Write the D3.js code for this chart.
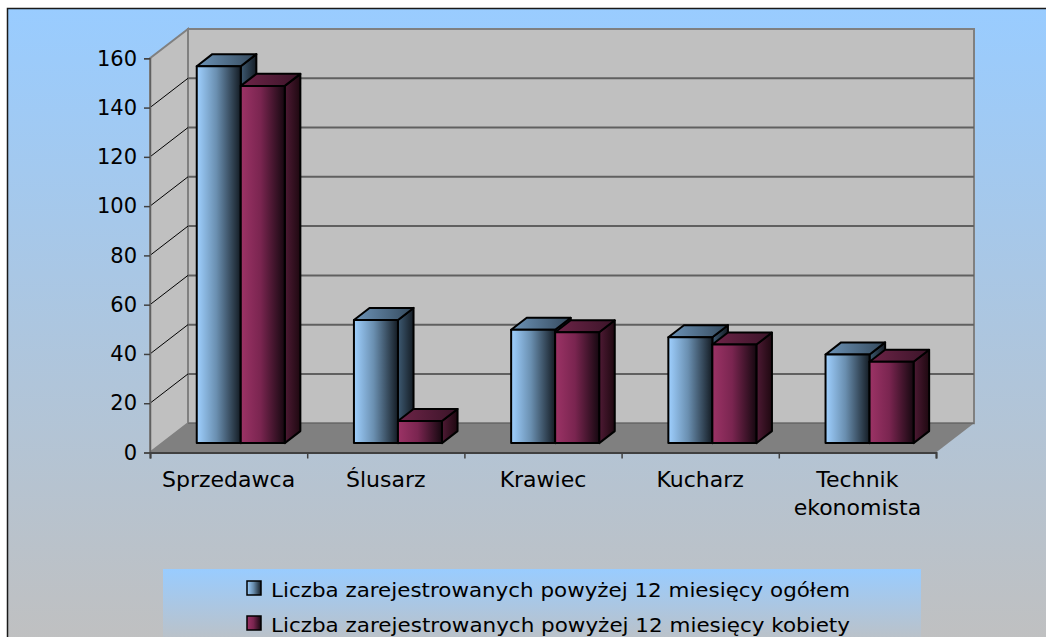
<!DOCTYPE html>
<html>
<head>
<meta charset="utf-8">
<script src="https://cdn.jsdelivr.net/npm/d3@7"></script>
<style>
  html, body { margin: 0; padding: 0; background: #fff; }
  svg { display: block; }
  text { font-family: "DejaVu Sans", Verdana, sans-serif; fill: #000; }
</style>
</head>
<body>
<svg id="chart" width="1046" height="637"></svg>
<script>
"use strict";

// data
var categories = ["Sprzedawca", "Ślusarz", "Krawiec", "Kucharz", "Technik ekonomista"];
var seriesNames = [
    "Liczba zarejestrowanych powyżej 12 miesięcy ogółem",
    "Liczba zarejestrowanych powyżej 12 miesięcy kobiety"
];
var totalValues = [153, 50, 46, 43, 36];
var womenValues = [145, 9, 45, 40, 33];
var yTicks = [0, 20, 40, 60, 80, 100, 120, 140, 160];

(function(){
    var svg = d3.select("#chart");
    var defs = svg.append("defs");

    var left = 150, right = 936, bottom = 452.5, top = 58.3;
    var depthX = 38, depthY = -29.3;          // oblique offset of the back wall
    var barFront = 0.32, barBack = 0.73;      // bar position inside the depth

    var y = d3.scaleLinear().domain([0, 160]).range([bottom, top]);
    var x0 = d3.scaleBand().domain(categories).range([left, right])
        .paddingInner(0.44).paddingOuter(0.22);
    var x1 = d3.scaleBand().domain([0, 1]).range([0, x0.bandwidth()]);

    function grad(id, stops, x2, y2){
        var g = defs.append("linearGradient").attr("id", id)
            .attr("x1", 0).attr("y1", 0).attr("x2", x2).attr("y2", y2);
        stops.forEach(function(s){
            g.append("stop").attr("offset", s[0]).attr("stop-color", s[1]);
        });
    }
    grad("bg", [[0, "#99ccff"], [1, "#c0c0c0"]], 0, 1);
    grad("blueFront", [[0, "#9fd0ff"], [0.45, "#6a8fb0"], [1, "#141c24"]], 1, 0);
    grad("blueTop", [[0, "#6d94b8"], [1, "#34495c"]], 1, 0);
    grad("blueSide", [[0, "#3e5a72"], [1, "#141c24"]], 1, 0);
    grad("redFront", [[0, "#9c3366"], [0.45, "#7a2550"], [1, "#160810"]], 1, 0);
    grad("redTop", [[0, "#6e2448"], [1, "#3a1428"]], 1, 0);
    grad("redSide", [[0, "#4e1a34"], [1, "#1e0810"]], 1, 0);

    var fills = [
        {front: "url(#blueFront)", top: "url(#blueTop)", side: "url(#blueSide)"},
        {front: "url(#redFront)", top: "url(#redTop)", side: "url(#redSide)"}
    ];

    // chart area background and frame
    svg.append("rect")
        .attr("x", 7.5).attr("y", 8.5).attr("width", 1100).attr("height", 640)
        .attr("fill", "url(#bg)")
        .attr("stroke", "#1a1a1a").attr("stroke-width", 1.5);

    function pts(a){ return a.map(function(p){ return p[0] + "," + p[1]; }).join(" "); }

    // floor
    svg.append("polygon")
        .attr("points", pts([[left, bottom], [right, bottom], [right + depthX, bottom + depthY], [left + depthX, bottom + depthY]]))
        .attr("fill", "#808080");

    // back wall
    svg.append("polygon")
        .attr("points", pts([[left + depthX, bottom + depthY], [right + depthX, bottom + depthY], [right + depthX, top + depthY], [left + depthX, top + depthY]]))
        .attr("fill", "#c0c0c0").attr("stroke", "#808080").attr("stroke-width", 2);

    // side wall
    svg.append("polygon")
        .attr("points", pts([[left, bottom], [left + depthX, bottom + depthY], [left + depthX, top + depthY], [left, top]]))
        .attr("fill", "#c0c0c0").attr("stroke", "#808080").attr("stroke-width", 2);

    // gridlines
    var inner = yTicks.filter(function(v){ return v > 0 && v < 160; });
    svg.append("g").selectAll("line").data(inner).enter().append("line")
        .attr("x1", left + depthX).attr("x2", right + depthX)
        .attr("y1", function(d){ return y(d) + depthY; })
        .attr("y2", function(d){ return y(d) + depthY; })
        .attr("stroke", "#606060").attr("stroke-width", 2);
    svg.append("g").selectAll("line").data(inner).enter().append("line")
        .attr("x1", left).attr("x2", left + depthX)
        .attr("y1", function(d){ return y(d); })
        .attr("y2", function(d){ return y(d) + depthY; })
        .attr("stroke", "#000").attr("stroke-width", 1);

    // front edge of the floor
    svg.append("line")
        .attr("x1", left + depthX).attr("y1", bottom + depthY)
        .attr("x2", right + depthX).attr("y2", bottom + depthY)
        .attr("stroke", "#606060").attr("stroke-width", 1);

    // bars
    var fx = barFront * depthX, fy = barFront * depthY;
    var bx = (barBack - barFront) * depthX, by = (barBack - barFront) * depthY;
    var rows = [];
    categories.forEach(function(c, i){
        [totalValues[i], womenValues[i]].forEach(function(v, s){
            rows.push({cat: c, s: s, v: v});
        });
    });
    var bars = svg.append("g").selectAll("g").data(rows).enter().append("g")
        .attr("stroke", "#000").attr("stroke-width", 2).attr("stroke-linejoin", "round");
    bars.each(function(d){
        var g = d3.select(this);
        var xl = x0(d.cat) + x1(d.s) + fx, w = x1.bandwidth();
        var yb = y(0) + fy, yt = y(d.v) + fy;
        g.append("polygon")
            .attr("points", pts([[xl + w, yt], [xl + w + bx, yt + by], [xl + w + bx, yb + by], [xl + w, yb]]))
            .attr("fill", fills[d.s].side);
        g.append("polygon")
            .attr("points", pts([[xl, yt], [xl + w, yt], [xl + w + bx, yt + by], [xl + bx, yt + by]]))
            .attr("fill", fills[d.s].top);
        g.append("rect")
            .attr("x", xl).attr("y", yt).attr("width", w).attr("height", yb - yt)
            .attr("fill", fills[d.s].front);
    });

    // y axis
    var yAxis = svg.append("g")
        .attr("transform", "translate(" + left + ",0)")
        .call(d3.axisLeft(y).tickValues(yTicks).tickSize(6).tickPadding(7));
    yAxis.select(".domain").attr("stroke", "#606060").attr("stroke-width", 1.5);
    yAxis.selectAll(".tick line").attr("stroke", "#404040").attr("stroke-width", 1.5);
    yAxis.selectAll("text").style("font-size", "21px").attr("fill", "#000")
        .style("font-family", "DejaVu Sans");

    // x axis
    var xEdge = d3.scaleLinear().domain([0, categories.length]).range([left, right]);
    var xAxis = svg.append("g")
        .attr("transform", "translate(0," + bottom + ")")
        .call(d3.axisBottom(xEdge).tickValues(d3.range(categories.length + 1))
            .tickSize(6).tickFormat(""));
    xAxis.select(".domain").attr("stroke", "#404040").attr("stroke-width", 2);
    xAxis.selectAll(".tick line").attr("stroke", "#404040").attr("stroke-width", 1.5);

    var labels = svg.append("g").selectAll("text").data(categories).enter().append("text")
        .attr("text-anchor", "middle")
        .attr("x", function(d){ return x0(d) + x0.bandwidth() / 2; })
        .attr("y", 487)
        .style("font-size", "22px");
    labels.each(function(d){
        var t = d3.select(this);
        d.split(" ").forEach(function(word, i){
            t.append("tspan")
                .attr("x", x0(d) + x0.bandwidth() / 2)
                .attr("dy", i ? 28 : 0)
                .text(word);
        });
    });

    // legend
    var legend = svg.append("g");
    legend.append("rect")
        .attr("x", 163).attr("y", 569).attr("width", 758).attr("height", 80)
        .attr("fill", "url(#bg)");
    var items = legend.selectAll("g").data(seriesNames).enter().append("g")
        .attr("transform", function(d, i){ return "translate(247," + (581 + i * 35) + ")"; });
    items.append("rect")
        .attr("width", 14).attr("height", 14)
        .attr("fill", function(d, i){ return fills[i].front; })
        .attr("stroke", "#000").attr("stroke-width", 1.5);
    items.append("text")
        .attr("x", 24).attr("y", 15.5)
        .attr("textLength", 579).attr("lengthAdjust", "spacingAndGlyphs")
        .style("font-size", "20px")
        .text(function(d){ return d; });
})();
</script>
</body>
</html>
